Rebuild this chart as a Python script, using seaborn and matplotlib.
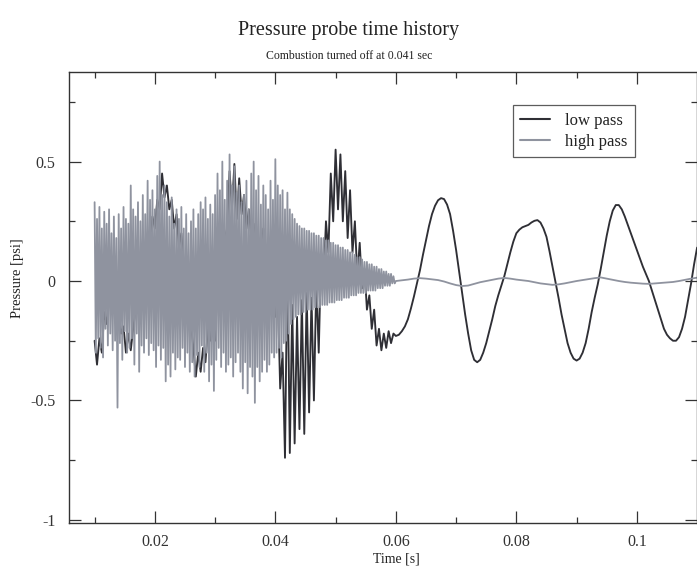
import numpy as np
import pandas as pd
import matplotlib
matplotlib.use("Agg")
import matplotlib.pyplot as plt
from matplotlib.ticker import FixedLocator
import seaborn as sns

# ---------------------------------------------------------------------------
# Probe signal, split into the two filtered components.
# Dense sections are sampled every 0.2 ms / 0.4 ms, the quiet tail more coarsely.
# ---------------------------------------------------------------------------

# low-pass component, 0.0100 s .. 0.0596 s every 0.4 ms
low_pass_early = [
    -0.25, -0.35, -0.24, -0.30, -0.13,
    -0.18, -0.06, -0.12, -0.02, -0.10,
    -0.12, -0.22, -0.19, -0.30, -0.22,
    -0.29, -0.20, -0.12, -0.03, 0.02,
    0.08, 0.04, 0.18, 0.10, 0.27,
    0.22, 0.34, 0.30, 0.45, 0.35,
    0.40, 0.30, 0.34, 0.22, 0.28,
    0.14, 0.20, 0.05, 0.08, -0.10,
    -0.18, -0.28, -0.40, -0.30, -0.38,
    -0.28, -0.34, -0.20, -0.25, -0.10,
    -0.25, 0.00, -0.05, 0.12, 0.18,
    0.22, 0.46, 0.30, 0.49, 0.26,
    0.43, 0.28, 0.36, 0.22, 0.30,
    0.18, 0.24, 0.12, 0.16, 0.08,
    0.22, 0.10, 0.06, -0.02, -0.06,
    -0.15, -0.05, -0.45, -0.30, -0.74,
    0.12, -0.72, -0.10, -0.68, -0.15,
    -0.62, -0.08, -0.64, -0.05, -0.55,
    -0.07, -0.50, 0.00, -0.30, 0.12,
    0.00, 0.25, 0.12, 0.45, 0.25,
    0.55, 0.30, 0.53, 0.25, 0.46,
    0.18, 0.38, 0.12, 0.25, 0.02,
    0.16, -0.03, 0.05, -0.12, -0.06,
    -0.20, -0.12, -0.27, -0.20, -0.29,
    -0.22, -0.28, -0.21, -0.26, -0.22,
]

# low-pass component, 0.0600 s .. 0.1100 s every 0.5 ms
low_pass_late = [
    -0.23, -0.225, -0.21, -0.19, -0.16, -0.115, -0.065, -0.01, 0.045, 0.11,
    0.17, 0.23, 0.28, 0.315, 0.338, 0.347, 0.343, 0.32, 0.28, 0.21,
    0.13, 0.04, -0.05, -0.14, -0.22, -0.29, -0.33, -0.34, -0.33, -0.30,
    -0.26, -0.21, -0.16, -0.105, -0.06, -0.02, 0.02, 0.07, 0.12, 0.165,
    0.20, 0.215, 0.225, 0.23, 0.235, 0.245, 0.252, 0.255, 0.245, 0.22,
    0.185, 0.125, 0.06, -0.005, -0.07, -0.14, -0.20, -0.26, -0.30, -0.325,
    -0.333, -0.325, -0.30, -0.26, -0.20, -0.13, -0.07, -0.015, 0.05, 0.12,
    0.19, 0.25, 0.295, 0.318, 0.318, 0.30, 0.27, 0.235, 0.20, 0.165,
    0.13, 0.095, 0.06, 0.03, 0.00, -0.04, -0.08, -0.12, -0.16, -0.20,
    -0.225, -0.24, -0.25, -0.25, -0.235, -0.20, -0.15, -0.08, -0.01, 0.07,
    0.14,
]

# high-pass component, 0.0100 s .. 0.0598 s every 0.2 ms
high_pass_early = [
    0.33, -0.30, 0.26, -0.24, 0.31, -0.28, 0.22, -0.32, 0.29, -0.20,
    0.24, -0.27, 0.30, -0.22, 0.20, -0.29, 0.27, -0.25, 0.18, -0.53,
    0.28, -0.26, 0.22, -0.33, 0.31, -0.21, 0.26, -0.30, 0.24, -0.28,
    0.40, -0.24, 0.30, -0.35, 0.27, -0.22, 0.33, -0.38, 0.25, -0.27,
    0.36, -0.30, 0.28, -0.24, 0.42, -0.31, 0.34, -0.26, 0.38, -0.29,
    0.30, -0.36, 0.44, -0.27, 0.50, -0.33, 0.36, -0.28, 0.40, -0.42,
    0.33, -0.35, 0.27, -0.40, 0.35, -0.30, 0.24, -0.37, 0.30, -0.32,
    0.26, -0.33, 0.31, -0.28, 0.22, -0.36, 0.28, -0.30, 0.20, -0.38,
    0.25, -0.34, 0.30, -0.40, 0.22, -0.31, 0.28, -0.36, 0.33, -0.27,
    0.30, -0.38, 0.35, -0.30, 0.26, -0.42, 0.32, -0.35, 0.28, -0.46,
    0.36, -0.33, 0.45, -0.28, 0.38, -0.36, 0.50, -0.30, 0.34, -0.38,
    0.42, -0.35, 0.53, -0.32, 0.40, -0.40, 0.48, -0.34, 0.37, -0.30,
    0.40, -0.38, 0.33, -0.45, 0.36, -0.34, 0.42, -0.47, 0.30, -0.36,
    0.45, -0.40, 0.50, -0.51, 0.38, -0.36, 0.44, -0.42, 0.32, -0.38,
    0.40, -0.33, 0.36, -0.38, 0.30, -0.35, 0.42, -0.30, 0.34, -0.32,
    0.51, -0.30, 0.40, -0.28, 0.36, -0.32, 0.38, -0.26, 0.30, -0.25,
    0.37, -0.22, 0.30, -0.18, 0.28, -0.16, 0.26, -0.15, 0.24, -0.14,
    0.23, -0.14, 0.22, -0.13, 0.22, -0.13, 0.21, -0.12, 0.21, -0.12,
    0.20, -0.12, 0.20, -0.11, 0.19, -0.11, 0.19, -0.11, 0.18, -0.10,
    0.18, -0.10, 0.17, -0.10, 0.17, -0.09, 0.16, -0.09, 0.16, -0.09,
    0.15, -0.08, 0.15, -0.08, 0.14, -0.08, 0.14, -0.07, 0.13, -0.07,
    0.13, -0.07, 0.12, -0.06, 0.12, -0.06, 0.11, -0.06, 0.10, -0.05,
    0.10, -0.05, 0.09, -0.05, 0.08, -0.05, 0.08, -0.04, 0.07, -0.04,
    0.07, -0.04, 0.06, -0.04, 0.06, -0.03, 0.05, -0.03, 0.05, -0.03,
    0.04, -0.02, 0.04, -0.02, 0.03, -0.02, 0.03, -0.01, 0.02, -0.01,
]

# high-pass component, 0.060 s .. 0.110 s every 1 ms
high_pass_late = [
    0.0, 0.003, 0.006, 0.010, 0.012, 0.010, 0.007, 0.004, -0.002, -0.010,
    -0.017, -0.021, -0.019, -0.012, -0.005, 0.0, 0.005, 0.010, 0.013, 0.010,
    0.006, 0.003, 0.0, -0.005, -0.010, -0.013, -0.016, -0.014, -0.010, -0.005,
    0.0, 0.004, 0.008, 0.012, 0.015, 0.010, 0.005, 0.0, -0.004, -0.007,
    -0.009, -0.011, -0.012, -0.010, -0.008, -0.006, -0.004, 0.0, 0.005, 0.010,
    0.014,
]

series_names = ["low pass", "high pass"]
title = "Pressure probe time history"
subtitle = "Combustion turned off at 0.041 sec"
x_label = "Time [s]"
y_label = "Pressure [psi]"
x_ticks = [0.02, 0.04, 0.06, 0.08, 0.1]
x_tick_labels = ["0.02", "0.04", "0.06", "0.08", "0.1"]
y_ticks = [-1.0, -0.5, 0.0, 0.5]
y_tick_labels = ["-1", "-0.5", "0", "0.5"]

# sample times for each stretch
t_low = np.concatenate([
    0.0100 + 0.0004 * np.arange(len(low_pass_early)),
    0.0600 + 0.0005 * np.arange(len(low_pass_late)),
])
t_high = np.concatenate([
    0.0100 + 0.0002 * np.arange(len(high_pass_early)),
    0.0600 + 0.0010 * np.arange(len(high_pass_late)),
])

df_low = pd.DataFrame({"time": t_low, "pressure": low_pass_early + low_pass_late})
df_high = pd.DataFrame({"time": t_high, "pressure": high_pass_early + high_pass_late})

sns.set_theme(style="ticks")
plt.rcParams["font.family"] = ["Liberation Serif", "DejaVu Serif"]
plt.rcParams["axes.edgecolor"] = "#333333"
plt.rcParams["xtick.color"] = "#333333"
plt.rcParams["ytick.color"] = "#333333"
plt.rcParams["text.color"] = "#222222"
plt.rcParams["axes.labelcolor"] = "#222222"

W, H = 697, 568
AX_L, AX_R, AX_T, AX_B = 69.3, 696.5, 72, 523
fig = plt.figure(figsize=(W / 100, H / 100), dpi=100)
ax = fig.add_axes([AX_L / W, (H - AX_B) / H, (AX_R - AX_L) / W, (AX_B - AX_T) / H])

sns.lineplot(data=df_low, x="time", y="pressure", ax=ax, sort=False, estimator=None,
             color="#2f2f35", linewidth=1.35, label=series_names[0])
sns.lineplot(data=df_high, x="time", y="pressure", ax=ax, sort=False, estimator=None,
             color="#8f939f", linewidth=1.3, label=series_names[1])

ax.set_xlim(0.0058, 0.1099)
ax.set_ylim(-1.013, 0.875)

ax.set_xticks(x_ticks)
ax.set_xticklabels(x_tick_labels)
ax.set_yticks(y_ticks)
ax.set_yticklabels(y_tick_labels)
ax.xaxis.set_minor_locator(FixedLocator([0.01, 0.03, 0.05, 0.07, 0.09]))
ax.yaxis.set_minor_locator(FixedLocator([-0.75, -0.25, 0.25, 0.75]))
ax.tick_params(which="both", direction="in", top=True, right=True, width=0.9)
ax.tick_params(which="major", length=8.5, labelsize=11.5)
ax.tick_params(axis="x", which="major", pad=8)
ax.tick_params(axis="y", which="major", pad=10)
ax.tick_params(which="minor", length=4.5)
for s in ax.spines.values():
    s.set_linewidth(1.0)
    s.set_visible(True)

# axis titles: under the 0.06 tick and level with the zero line
axw, axh = AX_R - AX_L, AX_B - AX_T
ax.set_xlabel(x_label, fontsize=10)
ax.set_ylabel(y_label, fontsize=10.5)
ax.xaxis.set_label_coords((396 - AX_L) / axw, -(559 - AX_B) / axh, transform=ax.transAxes)
ax.yaxis.set_label_coords(-(AX_L - 18) / axw, (AX_B - 278) / axh, transform=ax.transAxes)
ax.xaxis.label.set_va("center")
ax.yaxis.label.set_va("center")

fig.text(349 / W, 1 - 30 / H, title, ha="center", va="center", fontsize=14.5)
fig.text(349 / W, 1 - 56 / H, subtitle, ha="center", va="center", fontsize=8.5)

leg = ax.legend(loc="upper right", bbox_to_anchor=((635 - AX_L) / axw, (AX_B - 105) / axh),
                borderaxespad=0, frameon=True, fancybox=False, fontsize=12,
                handlelength=1.8, borderpad=0.45, labelspacing=0.3, handletextpad=0.9)
leg.get_frame().set_edgecolor("#333333")
leg.get_frame().set_linewidth(0.9)
for line in leg.get_lines():
    line.set_linewidth(1.5)

fig.savefig("out.png", dpi=100)
